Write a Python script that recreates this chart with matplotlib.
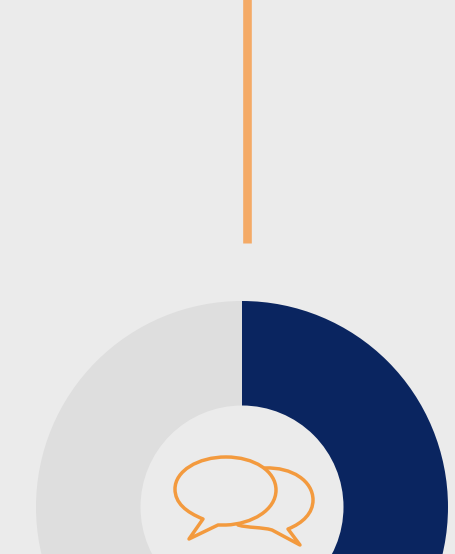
"""Donut gauge with a leader line and a speech-bubble icon in the hole."""

from __future__ import annotations

import matplotlib

matplotlib.use("Agg")
import matplotlib.pyplot as plt
import numpy as np
from matplotlib.patches import PathPatch
from matplotlib.path import Path

WIDTH = 455
HEIGHT = 554

share_values = [50, 50]
share_colors = ["#0a2560", "#dedede"]

BACKGROUND = "#ebebeb"
ORANGE = "#f39a3e"
LEADER = "#f4aa66"


def flip(points):
    """Turn y-down canvas points into the y-up axes coordinates."""
    return [(x, HEIGHT - y) for x, y in points]


def add_icon(ax):
    front_pts = flip([
        (203, 519),
        (186, 512), (175, 503), (175, 489),
        (175, 471), (198, 457), (226, 457),
        (254, 457), (276, 471), (276, 490),
        (276, 510), (252, 524), (226, 525),
        (218, 525),
        (189, 539),
        (203, 519),
    ])
    front_codes = [Path.MOVETO] + [Path.CURVE4] * 12 + [Path.LINETO, Path.LINETO, Path.CLOSEPOLY]
    ax.add_patch(PathPatch(Path(front_pts, front_codes), fill=False, edgecolor=ORANGE, linewidth=2.5,
                           joinstyle="round", zorder=4))

    back_pts = flip([
        (265, 468),
        (292, 467), (313, 481), (313, 500),
        (313, 513), (303, 523), (288, 529),
        (300, 545),
        (272, 530),
        (262, 527), (248, 528), (238, 525),
    ])
    back_codes = [Path.MOVETO] + [Path.CURVE4] * 6 + [Path.LINETO, Path.LINETO] + [Path.CURVE4] * 3
    ax.add_patch(PathPatch(Path(back_pts, back_codes), fill=False, edgecolor=ORANGE, linewidth=2.5,
                           joinstyle="round", capstyle="round", zorder=3))


def main():
    fig = plt.figure(figsize=(WIDTH / 100, HEIGHT / 100), dpi=100, facecolor=BACKGROUND)
    ax = fig.add_axes([0, 0, 1, 1])

    ax.pie(
        share_values,
        colors=share_colors,
        startangle=90,
        counterclock=False,
        center=(242, HEIGHT - 507),
        radius=206,
        wedgeprops={"width": 104.5, "linewidth": 0},
        frame=True,
    )
    ax.set_xlim(0, WIDTH)
    ax.set_ylim(0, HEIGHT)
    ax.set_aspect("equal")
    ax.axis("off")

    ax.plot(np.array([247, 247]), np.array([HEIGHT + 2, HEIGHT - 243]), color=LEADER, linewidth=6.2,
            solid_capstyle="butt", zorder=2)

    add_icon(ax)

    fig.savefig("out.png", dpi=100, facecolor=BACKGROUND)
    plt.close(fig)


if __name__ == "__main__":
    main()
